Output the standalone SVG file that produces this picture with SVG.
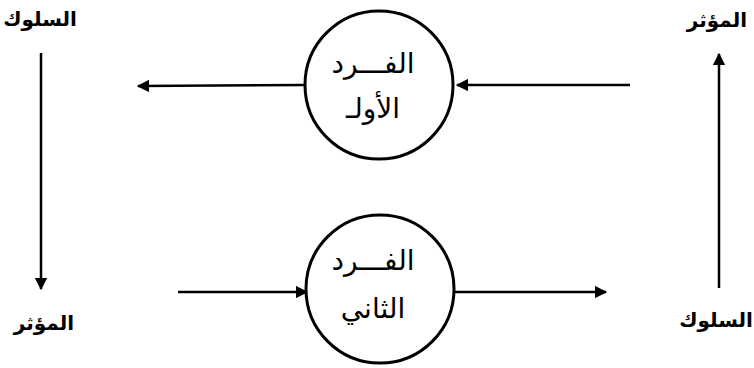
<svg xmlns="http://www.w3.org/2000/svg" width="754" height="368" viewBox="0 0 754 368">
<defs>
<marker id="ah" viewBox="0 0 10 10" refX="9" refY="5" markerWidth="5" markerHeight="5" orient="auto" markerUnits="strokeWidth">
<path d="M0,0 L10,5 L0,10 z" fill="#000"/>
</marker>
<style>
.lbl{font-family:"DejaVu Sans",sans-serif;font-size:20px;font-weight:bold;fill:#000;text-anchor:middle}
.in{font-family:"DejaVu Sans",sans-serif;font-size:28px;fill:#000;text-anchor:middle}
.node{fill:#fff;stroke:#000;stroke-width:3}
.edge{stroke:#000;stroke-width:2.5;fill:none}
</style>
</defs>
<rect width="754" height="368" fill="#fff"/>
<g id="connectors">
<line class="edge" x1="305" y1="85" x2="138" y2="86" marker-end="url(#ah)"/>
<line class="edge" x1="630" y1="85" x2="457" y2="85" marker-end="url(#ah)"/>
<line class="edge" x1="178" y1="292" x2="307" y2="292" marker-end="url(#ah)"/>
<line class="edge" x1="453" y1="292" x2="606" y2="292" marker-end="url(#ah)"/>
<line class="edge" x1="41" y1="53" x2="41" y2="289" marker-end="url(#ah)"/>
<line class="edge" x1="719" y1="288" x2="719" y2="54" marker-end="url(#ah)"/>
</g>
<g id="node-first">
<circle class="node" cx="379" cy="85" r="74"/>
<text class="in" x="373" y="73">الفـــرد</text>
<text class="in" x="373" y="118">الأولـ</text>
</g>
<g id="node-second">
<circle class="node" cx="380" cy="289" r="74"/>
<text class="in" x="373" y="270">الفـــرد</text>
<text class="in" x="373" y="318">الثاني</text>
</g>
<g id="label-behavior-tl"><text class="lbl" x="40" y="26">السلوك</text></g>
<g id="label-stimulus-tr"><text class="lbl" x="717" y="27">المؤثر</text></g>
<g id="label-stimulus-bl"><text class="lbl" x="44" y="330">المؤثر</text></g>
<g id="label-behavior-br"><text class="lbl" x="716" y="327">السلوك</text></g>
</svg>
